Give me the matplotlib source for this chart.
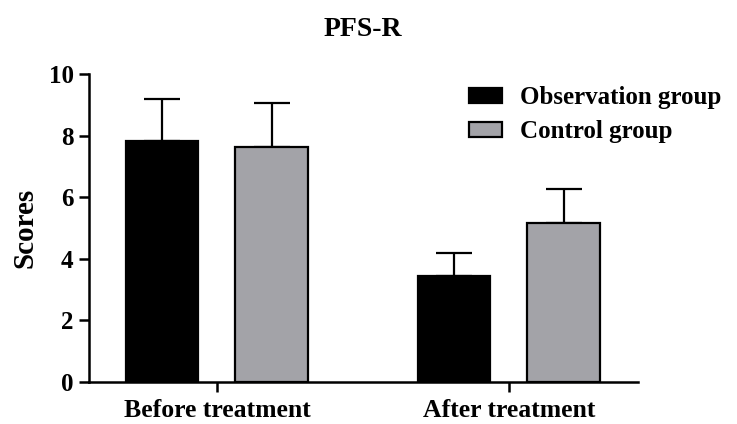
import numpy as np
import matplotlib
matplotlib.use("Agg")
import matplotlib.pyplot as plt

plt.rcParams['font.family'] = ['Liberation Serif', 'DejaVu Serif']
plt.rcParams['font.weight'] = 'bold'

# data
categories = ['Before treatment', 'After treatment']
groups = ['Observation group', 'Control group']
obs_mean = [7.82, 3.44]
obs_sd = [1.36, 0.74]
ctrl_mean = [7.62, 5.16]
ctrl_sd = [1.45, 1.10]
colors = ['#000000', '#a3a3a8']

fig = plt.figure(figsize=(7.37, 4.24), dpi=100)
ax = fig.add_axes([89/737, 1-382/424, (638-89)/737, (382-74)/424])

x = np.arange(len(categories))
w = 0.247
off = 0.187

for i, (m, sd, c, lab) in enumerate([(obs_mean, obs_sd, colors[0], groups[0]),
                                     (ctrl_mean, ctrl_sd, colors[1], groups[1])]):
    pos = x - off if i == 0 else x + off
    ax.bar(pos, m, width=w, color=c, edgecolor='black', linewidth=1.6,
           label=lab, zorder=3)
    ax.errorbar(pos, m, yerr=[np.zeros(len(m)), sd], fmt='none',
                ecolor='black', elinewidth=1.6, capsize=13, capthick=1.6,
                zorder=2)

ax.set_xlim(-0.438, 1.442)
ax.set_ylim(0, 10)
ax.set_yticks([0, 2, 4, 6, 8, 10])
ax.set_xticks(x)
ax.set_xticklabels(categories, fontsize=18.5, fontweight='bold')
ax.tick_params(axis='y', labelsize=18, width=1.8, length=7, direction='out', pad=4)
ax.tick_params(axis='x', width=1.8, length=7, direction='out', pad=5)
for lbl in ax.get_yticklabels():
    lbl.set_fontweight('bold')
ax.spines['top'].set_visible(False)
ax.spines['right'].set_visible(False)
ax.spines['left'].set_linewidth(1.8)
ax.spines['bottom'].set_linewidth(1.8)
ax.set_ylabel('Scores', fontsize=21, fontweight='bold', labelpad=7)

fig.text(363/737, 1-29/424, 'PFS-R', ha='center', va='center',
         fontsize=20, fontweight='bold')

fig.legend(loc='upper left', bbox_to_anchor=(469/737, 1-86/424),
           frameon=False, handlelength=1.3, handleheight=0.55,
           handletextpad=0.75, labelspacing=0.45, borderpad=0,
           borderaxespad=0, prop={'weight': 'bold', 'size': 18})

fig.savefig('out.png', dpi=100)
